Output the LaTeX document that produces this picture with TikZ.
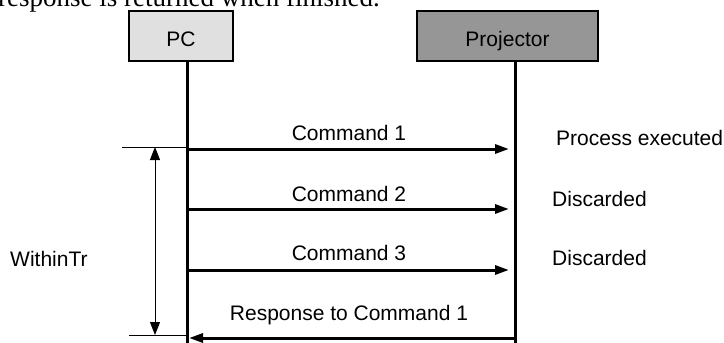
\documentclass[tikz,border=0pt]{standalone}
\usepackage{fontspec}
\setmainfont{Liberation Sans}
\newfontfamily\notefont{Liberation Serif}
\usetikzlibrary{arrows.meta}
\definecolor{pcgray}{HTML}{E0E0E0}
\definecolor{pjgray}{HTML}{969696}
\begin{document}
\begin{tikzpicture}[x=1pt,y=-1pt,
  lbl/.style={font=\fontsize{21}{25}\selectfont, inner sep=0pt},
  actor/.style={draw, line width=1.5pt, minimum height=50pt, inner sep=0pt,
    text height=20pt, text depth=0pt, font=\fontsize{21}{25}\selectfont},
  lifeline/.style={line width=3pt},
  msg/.style={line width=3pt, -{Triangle[length=14pt,width=9pt]}},
  span/.style={line width=1pt,
    {Triangle[length=13pt,width=10pt]}-{Triangle[length=13pt,width=10pt]}},
  tick/.style={line width=1pt}]
\useasboundingbox (0,0) rectangle (724,343);
\clip (0,0) rectangle (724,343);

% running text above the chart
\node[anchor=base west, inner sep=0pt, font=\notefont\fontsize{27}{30}\selectfont]
  (note) at (-2,6.5) {response is returned when finished.};

% participants
\node[actor, fill=pcgray, minimum width=104pt] (pc) at (181,36) {PC};
\node[actor, fill=pjgray, minimum width=181pt] (pj) at (507.5,36) {Projector};

% lifelines
\coordinate (pcEnd) at (187,345);
\coordinate (pjEnd) at (515,345);
\draw[lifeline] (pc.south -| pcEnd) -- (pcEnd);
\draw[lifeline] (pj.south -| pjEnd) -- (pjEnd);

% message end points
\coordinate (c1s) at (187,149); \coordinate (c1e) at (509,149);
\coordinate (c2s) at (187,209); \coordinate (c2e) at (509,209);
\coordinate (c3s) at (187,270); \coordinate (c3e) at (509,270);
\coordinate (rs) at (515,338);  \coordinate (re) at (189,338);

\draw[msg] (c1s) -- (c1e);
\draw[msg] (c2s) -- (c2e);
\draw[msg] (c3s) -- (c3e);
\draw[msg] (rs) -- (re);

% message labels
\node[lbl, anchor=base] (l1) at (349,140) {Command 1};
\node[lbl, anchor=base] (l2) at (349,201) {Command 2};
\node[lbl, anchor=base] (l3) at (349,260) {Command 3};
\node[lbl, anchor=base] (lr) at (349,320) {Response to Command 1};

% results at the projector
\node[lbl, anchor=base west] (r1) at (556,145) {Process executed};
\node[lbl, anchor=base west] (r2) at (552,206) {Discarded};
\node[lbl, anchor=base west] (r3) at (552,265) {Discarded};

% time span marker
\coordinate (t1a) at (122,147); \coordinate (t1b) at (187,147);
\coordinate (t2a) at (129,335); \coordinate (t2b) at (187,335);
\draw[tick] (t1a) -- (t1b);
\draw[tick] (t2a) -- (t2b);
\coordinate (d1) at (155,147); \coordinate (d2) at (155,335);
\draw[span] (d1) -- (d2);
\node[lbl, anchor=base west] (win) at (10,266) {WithinTr};
\end{tikzpicture}
\end{document}
